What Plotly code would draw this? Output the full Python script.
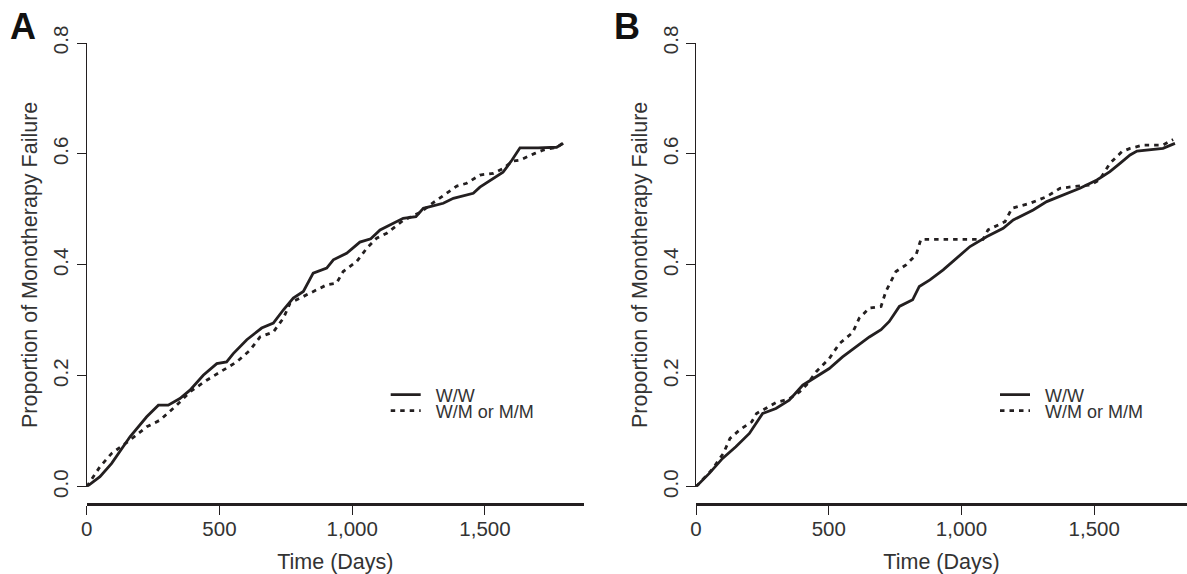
import plotly.graph_objects as go

# ---------------- data ----------------
a_ww_days = [0, 50, 94, 163, 226, 270, 307, 351, 389, 439, 490, 527, 552, 603, 659, 703, 741, 778,
             816, 853, 904, 929, 979, 1029, 1070, 1105, 1192, 1240, 1268, 1343, 1381, 1456, 1481,
             1519, 1568, 1602, 1632, 1700, 1770, 1795]
a_ww_prop = [0, 0.018, 0.042, 0.09, 0.126, 0.147, 0.147, 0.159, 0.174, 0.201, 0.222, 0.225, 0.24,
             0.265, 0.286, 0.295, 0.319, 0.34, 0.352, 0.385, 0.394, 0.409, 0.421, 0.441, 0.447,
             0.463, 0.484, 0.487, 0.502, 0.511, 0.52, 0.529, 0.54, 0.552, 0.567, 0.589, 0.611,
             0.611, 0.612, 0.619]

a_wm_days = [0, 50, 94, 163, 226, 276, 339, 389, 452, 502, 565, 615, 653, 703, 741, 766, 829, 904,
             941, 966, 1017, 1055, 1092, 1130, 1192, 1258, 1293, 1356, 1394, 1431, 1481, 1532,
             1570, 1604, 1632, 1688, 1720, 1771, 1795]
a_wm_prop = [0, 0.036, 0.06, 0.084, 0.108, 0.12, 0.147, 0.171, 0.192, 0.207, 0.225, 0.246, 0.27,
             0.279, 0.304, 0.331, 0.346, 0.364, 0.367, 0.388, 0.406, 0.43, 0.448, 0.457, 0.48,
             0.495, 0.508, 0.529, 0.542, 0.547, 0.562, 0.565, 0.574, 0.587, 0.589, 0.601, 0.607,
             0.612, 0.62]

b_ww_days = [0, 50, 100, 150, 201, 251, 301, 351, 402, 452, 502, 552, 602, 653, 697, 728, 766, 816,
             841, 881, 931, 975, 1032, 1096, 1157, 1195, 1270, 1321, 1383, 1446, 1510, 1559, 1597,
             1635, 1661, 1759, 1804]
b_ww_prop = [0, 0.024, 0.051, 0.072, 0.096, 0.132, 0.141, 0.156, 0.183, 0.198, 0.213, 0.234, 0.252,
             0.27, 0.283, 0.298, 0.325, 0.337, 0.361, 0.373, 0.391, 0.409, 0.433, 0.451, 0.466,
             0.481, 0.499, 0.514, 0.526, 0.538, 0.553, 0.568, 0.583, 0.598, 0.605, 0.61, 0.619]

b_wm_days = [0, 59, 103, 128, 166, 210, 228, 303, 350, 390, 421, 452, 502, 540, 590, 615, 653, 697,
             715, 753, 791, 829, 847, 1081, 1100, 1164, 1190, 1258, 1321, 1371, 1420, 1484, 1520,
             1559, 1604, 1635, 1684, 1759, 1797]
b_wm_prop = [0, 0.03, 0.06, 0.087, 0.103, 0.117, 0.132, 0.152, 0.158, 0.171, 0.186, 0.207, 0.231,
             0.258, 0.278, 0.304, 0.322, 0.325, 0.352, 0.388, 0.4, 0.418, 0.446, 0.446, 0.463,
             0.478, 0.502, 0.511, 0.523, 0.538, 0.541, 0.544, 0.553, 0.583, 0.604, 0.61, 0.616,
             0.616, 0.626]

series_names = ["W/W", "W/M or M/M"]
panel_labels = ["A", "B"]
x_ticks = [0, 500, 1000, 1500]
x_tick_text = ["0", "500", "1,000", "1,500"]
y_ticks = [0.0, 0.2, 0.4, 0.6, 0.8]
y_tick_text = ["0.0", "0.2", "0.4", "0.6", "0.8"]
x_title = "Time (Days)"
y_title = "Proportion of Monotherapy Failure"

# ---------------- layout geometry ----------------
W, H = 1187, 574
FONT = "Liberation Sans, Arial, Helvetica, sans-serif"
LINE = "#231f20"
TXT = "#333333"
px_per_day = 0.2655
y0_px, y08_px = 486.7, 43.0
xaxis_px = 504.0

def fx(p):
    return p / W

def fy(p):
    return 1 - p / H

panels = [
    dict(left=86.7, right=584.0),
    dict(left=696.0, right=1187.0),
]

fig = go.Figure()

data = [
    (a_ww_days, a_ww_prop, a_wm_days, a_wm_prop),
    (b_ww_days, b_ww_prop, b_wm_days, b_wm_prop),
]
dash_styles = [None, "4.5px,5px"]
legend_rows = [395, 411]

layout = dict(
    width=W, height=H,
    margin=dict(l=0, r=0, t=0, b=0, autoexpand=False),
    paper_bgcolor="white", plot_bgcolor="white",
    font=dict(family=FONT, color=TXT, size=20.5),
    showlegend=True,
)

leg_idx = 0
for i, series in enumerate(data):
    sfx = "" if i == 0 else str(i + 1)
    pnl = panels[i]
    for j in range(2):
        leg_idx += 1
        legkey = "legend" if leg_idx == 1 else "legend" + str(leg_idx)
        line = dict(color=LINE, width=2.8)
        if dash_styles[j]:
            line["dash"] = dash_styles[j]
        fig.add_trace(go.Scatter(x=series[2 * j], y=series[2 * j + 1], mode="lines",
                                 name="\u00a0\u00a0" + series_names[j], line=line,
                                 xaxis="x" + sfx, yaxis="y" + sfx,
                                 legend=legkey, hoverinfo="skip"))
        layout[legkey] = dict(
            x=fx(pnl["left"] + 299), y=fy(legend_rows[j]), xanchor="left", yanchor="middle",
            bgcolor="rgba(0,0,0,0)", borderwidth=0,
            font=dict(size=18, color=TXT, family=FONT),
        )

for i, pnl in enumerate(panels):
    sfx = "" if i == 0 else str(i + 1)
    xmax = (pnl["right"] - pnl["left"]) / px_per_day
    layout["xaxis" + sfx] = dict(
        domain=[fx(pnl["left"]), fx(pnl["right"])],
        range=[0, xmax], anchor="free", position=fy(xaxis_px), automargin=False,
        showline=True, linecolor=LINE, linewidth=2.7,
        ticks="outside", ticklen=9, tickwidth=1.3, tickcolor=LINE,
        tickvals=x_ticks, ticktext=x_tick_text, ticklabelstandoff=-3,
        tickfont=dict(size=20.5, color=TXT, family=FONT),
        showgrid=False, zeroline=False,
        title=dict(text=x_title, font=dict(size=21.5, color=TXT, family=FONT), standoff=17),
    )
    layout["yaxis" + sfx] = dict(
        domain=[fy(y0_px), fy(y08_px)],
        range=[0, 0.8], anchor="x" + sfx, automargin=False,
        showline=True, linecolor=LINE, linewidth=1.3,
        ticks="outside", ticklen=9, tickwidth=1.3, tickcolor=LINE,
        tickvals=y_ticks, ticktext=y_tick_text, tickangle=-90,
        tickfont=dict(size=20.5, color=TXT, family=FONT),
        showgrid=False, zeroline=False,
        title=dict(text=y_title, font=dict(size=21.5, color=TXT, family=FONT), standoff=5),
    )

fig.update_layout(**layout)

label_pos = [(23.3, 25.8), (627.0, 25.6)]
for lab, (lx, ly) in zip(panel_labels, label_pos):
    fig.add_annotation(text="<b>" + lab + "</b>", xref="paper", yref="paper",
                       x=fx(lx), y=fy(ly + 1), xanchor="center", yanchor="middle",
                       showarrow=False, font=dict(size=36, color="#111111", family=FONT))

fig.write_html("out.html",
               config={"displayModeBar": False},
               post_script="document.body.style.margin='0';document.body.style.overflow='hidden';")
